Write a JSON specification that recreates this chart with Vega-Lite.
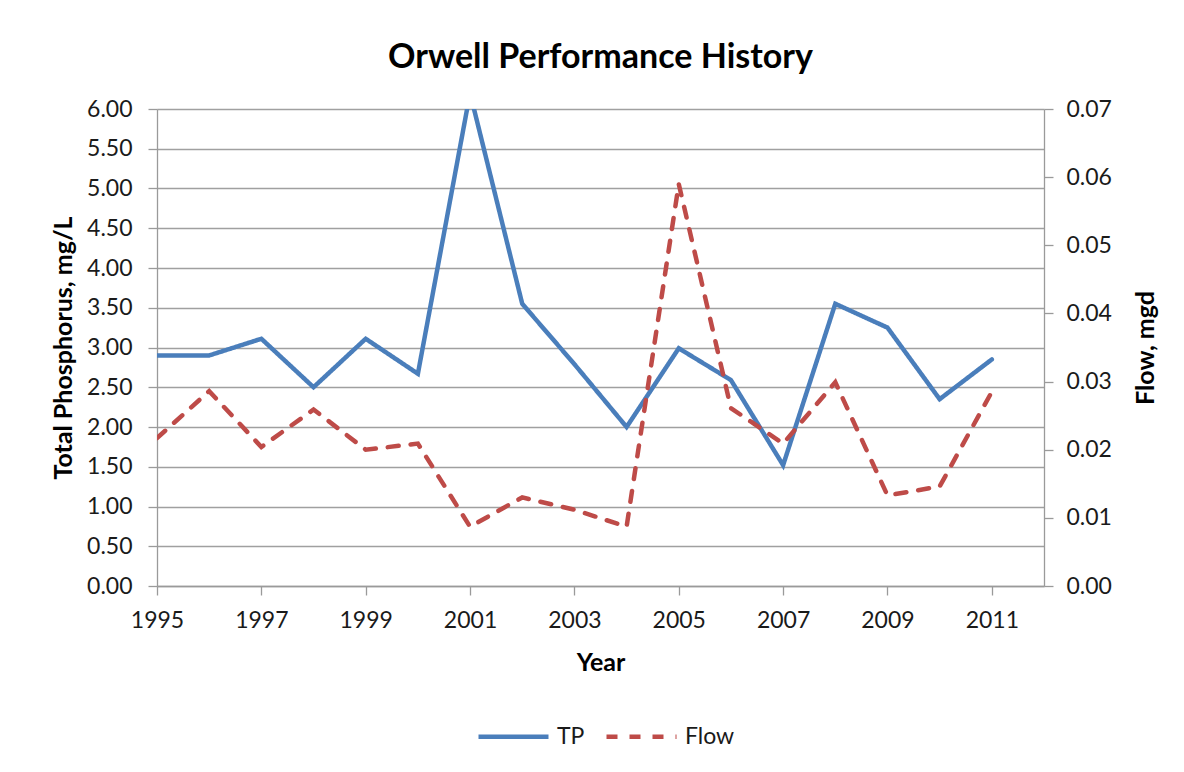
{
  "$schema": "https://vega.github.io/schema/vega-lite/v6.json",
  "autosize": {"type": "none"},
  "width": 887,
  "height": 477,
  "padding": {"left": 157, "top": 109, "right": 140, "bottom": 186},
  "background": "white",
  "title": {
    "text": "Orwell Performance History",
    "font": "Lato",
    "fontSize": 34,
    "fontWeight": "bold",
    "color": "#000000",
    "anchor": "middle",
    "offset": 23
  },
  "data": {
    "values": [
      {"year": 1995, "series": "TP", "value": 2.90},
      {"year": 1996, "series": "TP", "value": 2.90},
      {"year": 1997, "series": "TP", "value": 3.11},
      {"year": 1998, "series": "TP", "value": 2.50},
      {"year": 1999, "series": "TP", "value": 3.11},
      {"year": 2000, "series": "TP", "value": 2.67},
      {"year": 2001, "series": "TP", "value": 6.2},
      {"year": 2002, "series": "TP", "value": 3.55},
      {"year": 2003, "series": "TP", "value": 2.79},
      {"year": 2004, "series": "TP", "value": 2.00},
      {"year": 2005, "series": "TP", "value": 2.99},
      {"year": 2006, "series": "TP", "value": 2.59},
      {"year": 2007, "series": "TP", "value": 1.52},
      {"year": 2008, "series": "TP", "value": 3.55},
      {"year": 2009, "series": "TP", "value": 3.25},
      {"year": 2010, "series": "TP", "value": 2.35},
      {"year": 2011, "series": "TP", "value": 2.85},
      {"year": 1995, "series": "Flow", "value": 0.0217},
      {"year": 1996, "series": "Flow", "value": 0.0286},
      {"year": 1997, "series": "Flow", "value": 0.0204},
      {"year": 1998, "series": "Flow", "value": 0.0259},
      {"year": 1999, "series": "Flow", "value": 0.0200},
      {"year": 2000, "series": "Flow", "value": 0.0209},
      {"year": 2001, "series": "Flow", "value": 0.0087},
      {"year": 2002, "series": "Flow", "value": 0.0130},
      {"year": 2003, "series": "Flow", "value": 0.0112},
      {"year": 2004, "series": "Flow", "value": 0.0087},
      {"year": 2005, "series": "Flow", "value": 0.0590},
      {"year": 2006, "series": "Flow", "value": 0.0261},
      {"year": 2007, "series": "Flow", "value": 0.0209},
      {"year": 2008, "series": "Flow", "value": 0.0299},
      {"year": 2009, "series": "Flow", "value": 0.0133},
      {"year": 2010, "series": "Flow", "value": 0.0146},
      {"year": 2011, "series": "Flow", "value": 0.0285}
    ]
  },
  "encoding": {
    "x": {
      "field": "year",
      "type": "quantitative",
      "scale": {"domain": [1995, 2012], "nice": false, "zero": false},
      "axis": {
        "title": "Year",
        "values": [1995, 1997, 1999, 2001, 2003, 2005, 2007, 2009, 2011],
        "format": "d",
        "grid": false,
        "labelPadding": 14,
        "titlePadding": 18
      }
    },
    "color": {
      "field": "series",
      "type": "nominal",
      "scale": {"domain": ["TP", "Flow"], "range": ["#4A7EBB", "#BE4B48"]},
      "legend": {
        "title": null,
        "orient": "none",
        "direction": "horizontal",
        "legendX": 319,
        "legendY": 590
      }
    },
    "strokeDash": {
      "field": "series",
      "type": "nominal",
      "scale": {"domain": ["TP", "Flow"], "range": [[1, 0], [11, 12]]},
      "legend": {
        "title": null,
        "orient": "none",
        "direction": "horizontal",
        "legendX": 319,
        "legendY": 590
      }
    }
  },
  "layer": [
    {
      "transform": [{"filter": "datum.series === 'TP'"}],
      "mark": {"type": "line", "strokeWidth": 4.5, "strokeCap": "round", "strokeJoin": "miter", "clip": true},
      "encoding": {
        "y": {
          "field": "value",
          "type": "quantitative",
          "scale": {"domain": [0, 6], "nice": false},
          "axis": {
            "title": "Total Phosphorus, mg/L",
            "values": [0, 0.5, 1, 1.5, 2, 2.5, 3, 3.5, 4, 4.5, 5, 5.5, 6],
            "format": ".2f",
            "grid": true,
            "labelPadding": 16,
            "titlePadding": 10
          }
        }
      }
    },
    {
      "transform": [{"filter": "datum.series === 'Flow'"}],
      "mark": {"type": "line", "strokeWidth": 4.5, "strokeCap": "round", "clip": true},
      "encoding": {
        "y": {
          "field": "value",
          "type": "quantitative",
          "scale": {"domain": [0, 0.07], "nice": false},
          "axis": {
            "title": "Flow, mgd",
            "orient": "right",
            "values": [0, 0.01, 0.02, 0.03, 0.04, 0.05, 0.06, 0.07],
            "format": ".2f",
            "grid": false,
            "labelPadding": 13,
            "titlePadding": 22,
            "titleAngle": 270,
            "titleBaseline": "top"
          }
        }
      }
    }
  ],
  "resolve": {"scale": {"y": "independent"}},
  "config": {
    "view": {"stroke": null},
    "font": "Lato",
    "axis": {
      "domainColor": "#9a9a9a",
      "domainWidth": 1.3,
      "tickColor": "#9a9a9a",
      "tickWidth": 1.3,
      "tickSize": 9,
      "gridColor": "#a0a0a0",
      "gridWidth": 1.3,
      "labelFont": "Lato",
      "labelFontSize": 23,
      "labelColor": "#1a1a1a",
      "titleFont": "Lato",
      "titleFontSize": 25,
      "titleFontWeight": "bold",
      "titleColor": "#000000",
      "labelFlush": false,
      "labelOverlap": false
    },
    "legend": {
      "labelFont": "Lato",
      "labelFontSize": 23,
      "labelColor": "#1a1a1a",
      "symbolType": "stroke",
      "symbolSize": 4900,
      "symbolStrokeWidth": 4.5,
      "labelOffset": 6,
      "columnPadding": 12
    }
  }
}
